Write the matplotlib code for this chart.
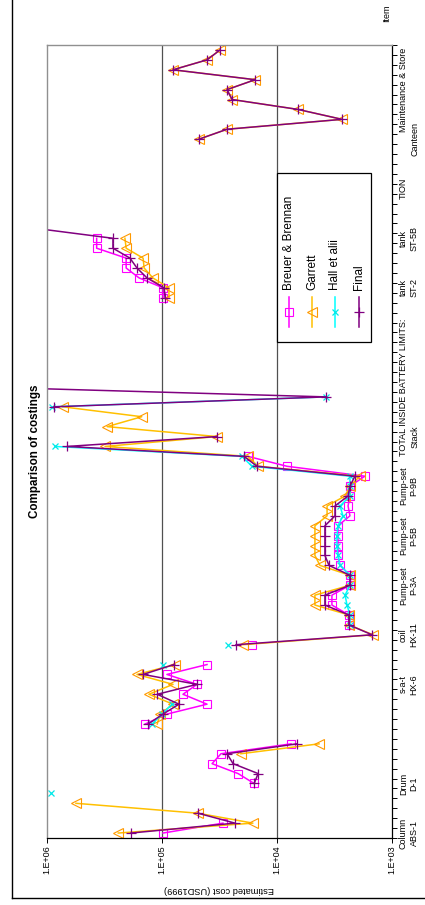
import numpy as np
import matplotlib
matplotlib.use("Agg")
import matplotlib.pyplot as plt
import matplotlib.ticker as mpl_ticker

plt.rcParams["font.family"] = ["Liberation Sans", "DejaVu Sans"]

# one row per cost line of the estimate, bottom to top
n_rows = 80

label_rows = [0, 5, 15, 20, 25, 30, 35, 40, 45, 55, 60, 65, 70, 75]
label_texts = ["Column\nABS-1", "Drum\nD-1", "s-a-t\nHX-6", "coil\nHX-11",
               "Pump-set\nP-3A", "Pump-set\nP-5B", "Pump-set\nP-9B", "Stack",
               "TOTAL INSIDE BATTERY LIMITS:", "tank\nST-2", "tank\nST-5B",
               "TION", "Canteen", "Maintenance & Store"]
# labels that would sit on top of a long neighbour go one line further out
label_shifted = ["Stack", "Canteen"]

# Breuer & Brennan
bb_rows = [0, 1, 5, 6, 7, 8, 9, 11, 12, 13, 14, 15, 16, 17, 19,
           21, 22, 23, 24, 25, 26, 27, 28, 29, 30, 31, 32, 33, 34, 35, 36, 37, 38,
           54, 55, 56, 57, 58, 59, 60]
bb_cost = [98000, 29500, 15800, 21800, 36700, 30700, 7550,
           140000, 90600, 40600, 65700, 49600, 90600, 40600, 16500,
           2370, 2370, 3330, 3330, 2320, 2320, 2830, 2950, 2950, 2950, 2950,
           2320, 2410, 2320, 2320, 1720, 8190, 17900,
           98000, 98000, 158000, 205000, 205000, 370000, 370000]

# Garrett
ga_rows = [0, 1, 2, 3, 8, 9, 11, 12, 13, 14, 15, 16, 17, 19, 20,
           21, 22, 23, 24, 25, 26, 27, 28, 29, 30, 31, 32, 33, 34, 35, 36, 37, 38,
           39, 40, 41, 42, 43,
           54, 55, 56, 57, 58, 59, 60,
           70, 71, 72, 73, 74, 75, 76, 77, 78, 79]
ga_cost = [240000, 16200, 48600, 560000, 20600, 4310,
           110000, 104000, 80200, 130000, 80200, 165000, 77100, 19800, 1460,
           2370, 2370, 4680, 4680, 2320, 2320, 4230, 4680, 4680, 4680, 4680,
           3670, 3670, 2560, 2320, 1900, 14600, 17900,
           313000, 33300, 300000, 150000, 730000,
           87000, 87000, 120000, 143000, 146000, 205000, 210000,
           47700, 27200, 2720, 6560, 24600, 27200, 15500, 80200, 40600, 31300]

# Hall et alii
ha_rows = [4, 11, 12, 13, 17, 19,
           21, 22, 23, 24, 25, 26, 27, 28, 29, 30, 31, 32, 33, 34, 35, 36, 37, 38,
           39, 43, 44]
ha_cost = [920000, 122000, 100000, 81800, 98000, 26700,
           2320, 2320, 2460, 2560, 2320, 2320, 2830, 2950, 3010, 3010, 2950,
           2670, 2830, 2320, 2320, 2320, 16500, 20200,
           850000, 900000, 3750]

# Final
fi_rows = [0, 1, 2, 5, 6, 7, 8, 9, 11, 12, 13, 14, 15, 16, 17, 19, 20,
           21, 22, 23, 24, 25, 26, 27, 28, 29, 30, 31, 32, 33, 34, 35, 36, 37, 38,
           39, 40, 43, 44, 45,
           54, 55, 56, 57, 58, 59, 60, 61,
           70, 71, 72, 73, 74, 75, 76, 77, 78, 79]
fi_cost = [186000, 23200, 48600, 15800, 14600, 24100, 27200, 6700,
           132000, 98000, 71200, 110000, 49600, 146000, 78700, 22700, 1490,
           2370, 2370, 3830, 3830, 2320, 2320, 3530, 3830, 3830, 3830, 3830,
           3130, 3130, 2410, 2320, 2100, 14900, 19400,
           670000, 33300, 870000, 3750, 3700000,
           94000, 96000, 135000, 165000, 190000, 267000, 267000, 1250000,
           47700, 27200, 2720, 6560, 24600, 27200, 15500, 80200, 40600, 31300]

x_ticks = [1e3, 1e4, 1e5, 1e6]
x_tick_labels = ["1.E+03", "1.E+04", "1.E+05", "1.E+06"]


def column(rows, cost):
    """Spread the sparse values over all rows, blanks become gaps."""
    out = np.full(n_rows, np.nan)
    out[np.asarray(rows)] = cost
    return out


rows = np.arange(n_rows)
series = [
    ("Breuer & Brennan", column(bb_rows, bb_cost),
     dict(color="#FF00FF", marker="s", ms=5.5, mfc="none", mec="#FF00FF", mew=0.8)),
    ("Garrett", column(ga_rows, ga_cost),
     dict(color="#FFC000", marker="<", ms=7, mfc="none", mec="#FF9900", mew=0.8)),
    ("Hall et alii", column(ha_rows, ha_cost),
     dict(color="#00FFFF", marker="x", ms=5, mec="#00E8E8", mew=0.9)),
    ("Final", column(fi_rows, fi_cost),
     dict(color="#800080", marker="+", ms=6.5, mec="#800080", mew=0.9)),
]

W, H = 425, 905
fig = plt.figure(figsize=(W / 100, H / 100), dpi=100)
ax = fig.add_axes([47 / W, 1 - 838 / H, 345 / W, 793 / H])
ax.set_xscale("log")
ax.set_xlim(1e6, 1e3)
ax.set_ylim(-0.5, n_rows - 0.5)

for v in (1e4, 1e5):
    ax.axvline(v, color="#505050", lw=0.9, zorder=0.5)

for name, vals, style in series:
    ax.plot(vals, rows, lw=1.1, label=name, **style)

# value axis along the bottom
ax.set_xticks(x_ticks)
ax.set_xticklabels(x_tick_labels)
ax.xaxis.set_minor_locator(mpl_ticker.NullLocator())
ax.tick_params(axis="x", direction="out", length=3.5, width=0.7,
               labelsize=6.5, labelrotation=90, pad=2)

# category axis on the right, one tick between every row
ax.yaxis.set_ticks_position("right")
ax.set_yticks(np.arange(-0.5, n_rows, 1.0))
ax.tick_params(axis="y", direction="out", length=3.5, width=0.7,
               labelright=False, labelleft=False, left=False)

for side in ("left", "top"):
    ax.spines[side].set_color("#909090")
    ax.spines[side].set_linewidth(1.0)
for side in ("right", "bottom"):
    ax.spines[side].set_color("black")
    ax.spines[side].set_linewidth(0.9)

for r, txt in zip(label_rows, label_texts):
    x0 = 1.02 + (12 / 345 if txt in label_shifted else 0)
    ax.text(x0, r, txt, transform=ax.get_yaxis_transform(), rotation=90,
            ha="left", va="center", fontsize=6.5, multialignment="center",
            linespacing=1.25, clip_on=False)

# page furniture in pixel coordinates
ov = fig.add_axes([0, 0, 1, 1], facecolor="none")
ov.set_xlim(0, W)
ov.set_ylim(H, 0)
ov.axis("off")

ov.plot([12, 12], [0, 898], color="black", lw=1.0)
ov.plot([12, W], [898, 898], color="black", lw=1.0)

ov.text(35, 451, "Comparison of costings", rotation=90, ha="center",
        va="center", fontsize=8.4, fontweight="bold")
ov.text(219, 889, "Estimated cost (USD1999)", rotation=180, ha="center",
        va="center", fontsize=6.7)
ov.text(387, 13, "Item", rotation=90, ha="center", va="center", fontsize=6.5)

# legend box
ov.add_patch(plt.Rectangle((277, 173), 94, 169, facecolor="white",
                           edgecolor="black", lw=0.9))
line_keys = ("marker", "ms", "mfc", "mec", "mew")
for (name, vals, style), lx in zip(series, (289, 312, 335, 359)):
    ov.plot([lx, lx], [297, 327], lw=1.1,
            **{k: v for k, v in style.items() if k not in line_keys})
    ov.plot([lx], [312], lw=0, **style)
    ov.text(lx, 290, name, rotation=90, ha="center", va="bottom", fontsize=8.5)

fig.savefig("out.png", dpi=100)
